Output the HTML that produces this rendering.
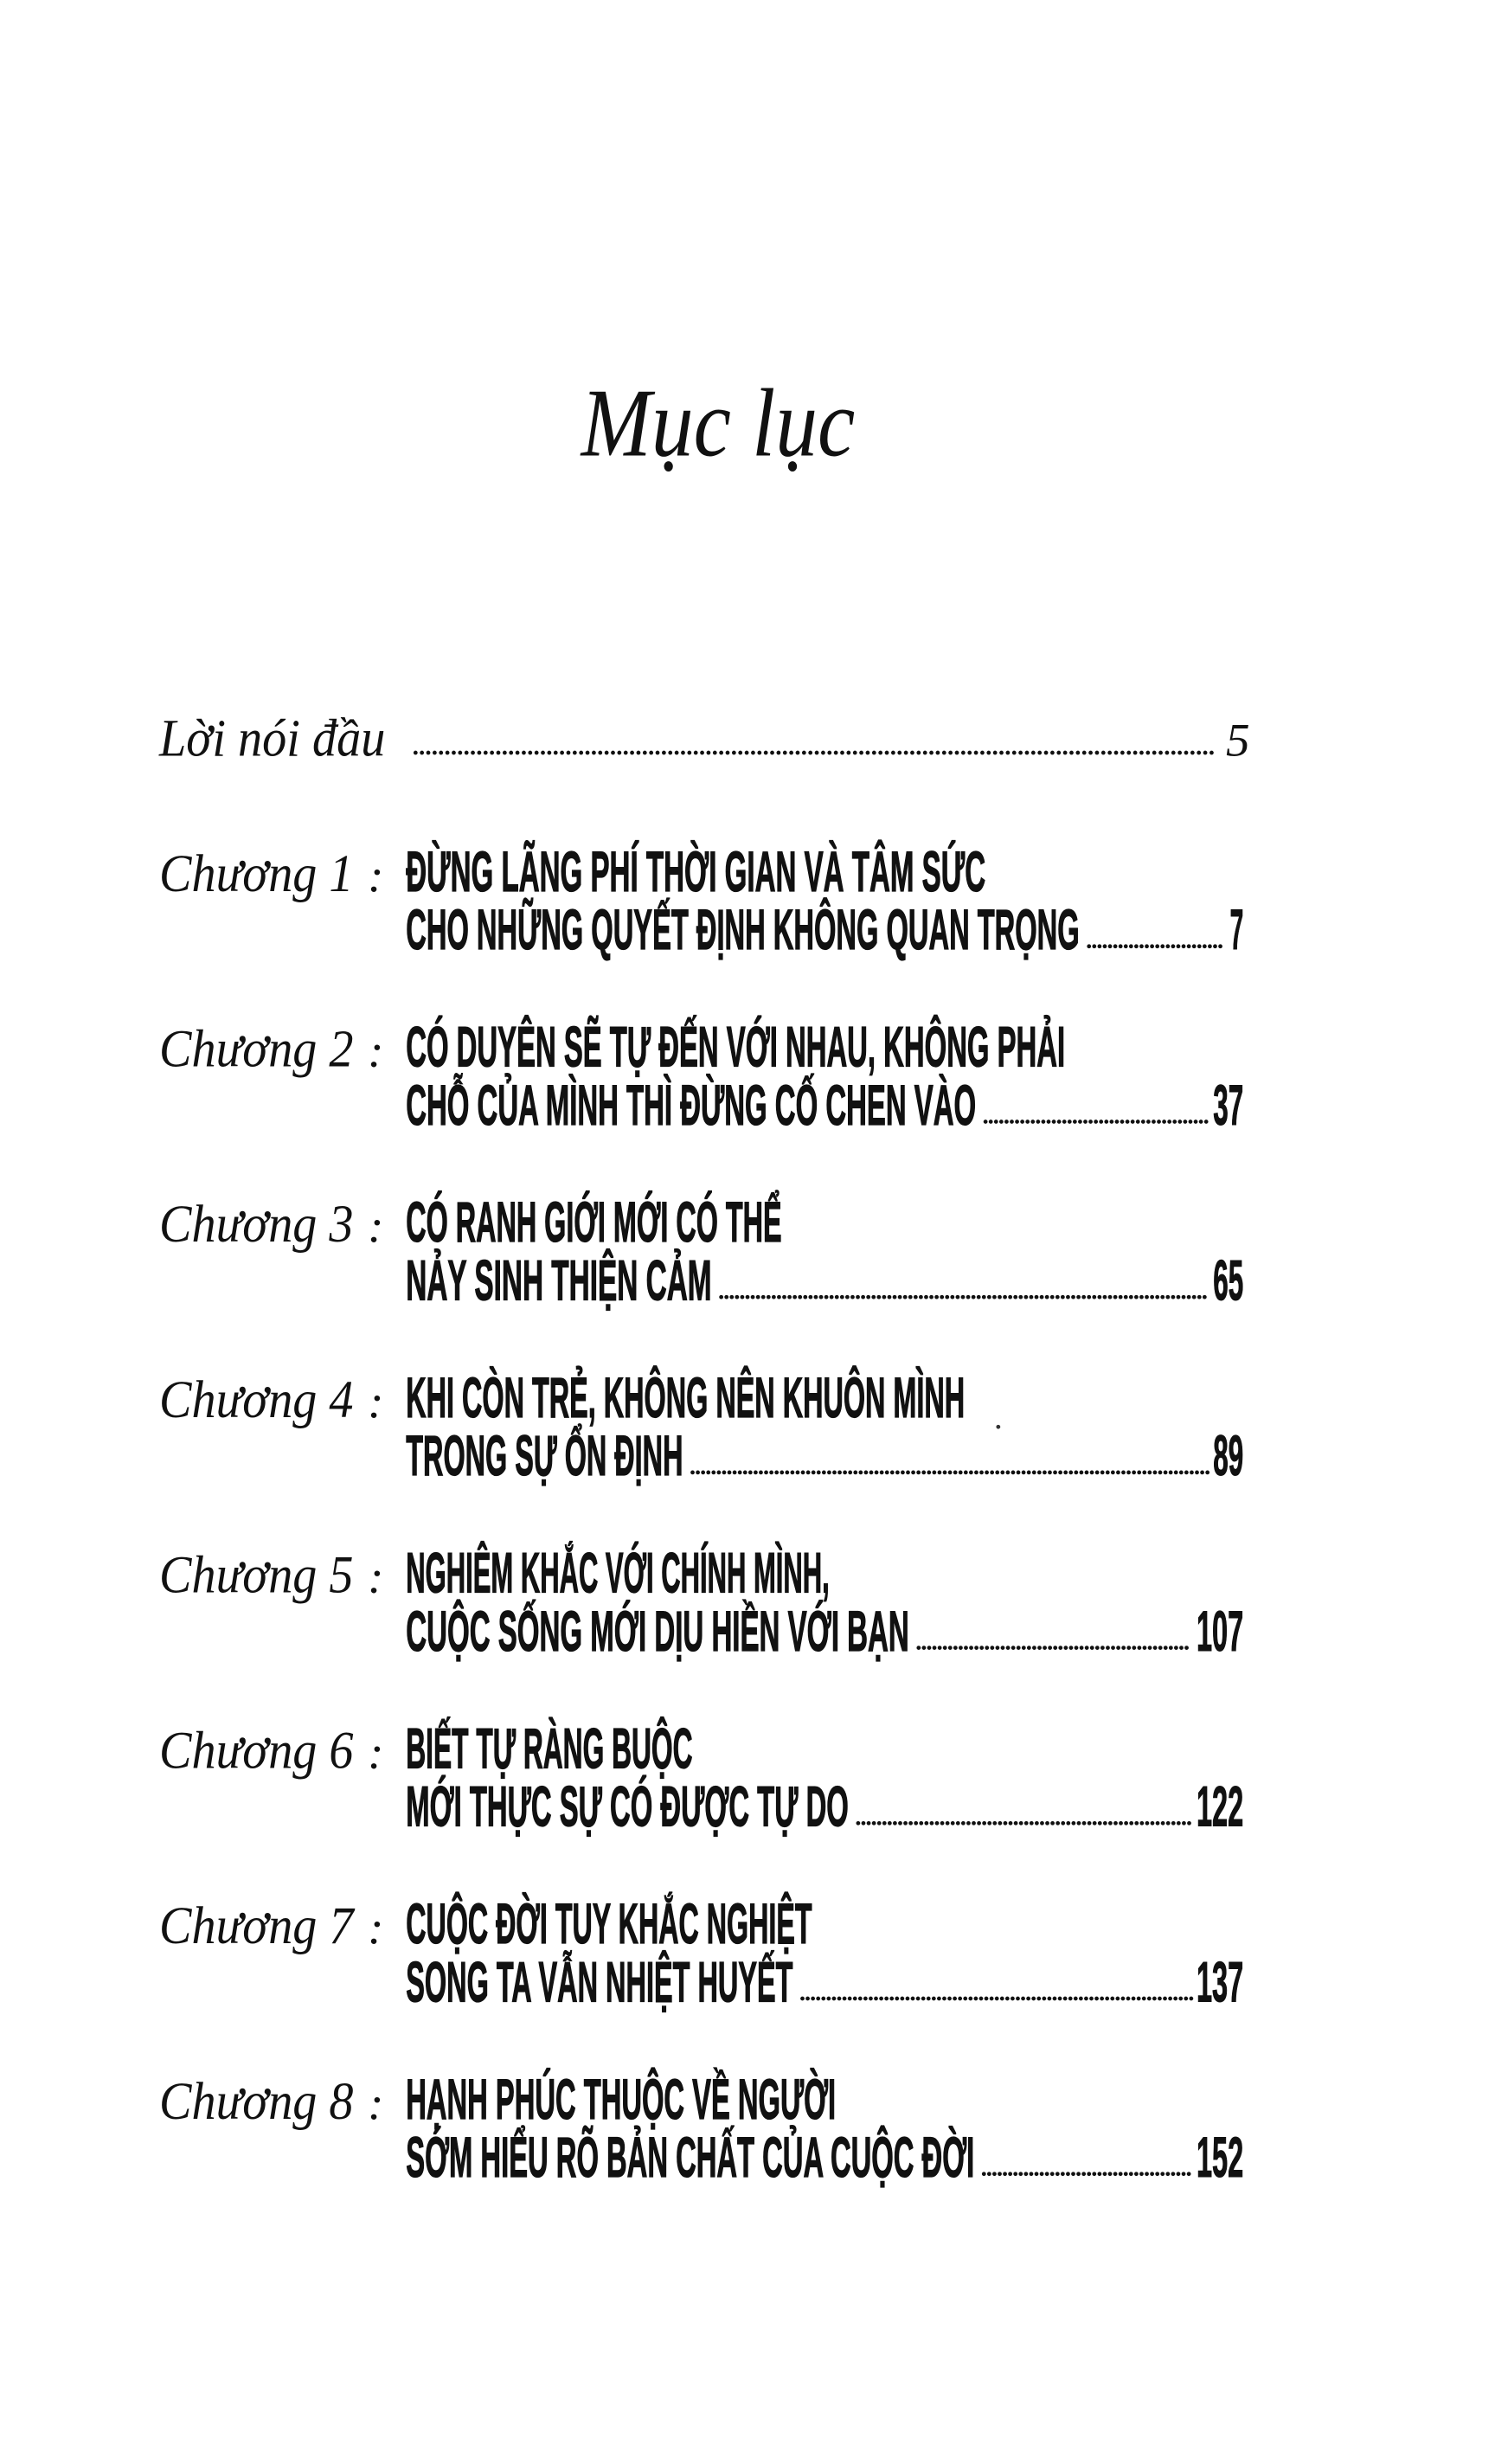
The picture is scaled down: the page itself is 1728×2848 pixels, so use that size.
<!DOCTYPE html>
<html><head><meta charset="utf-8"><style>
html,body{margin:0;padding:0;background:#fff;}
svg{display:block}
.c{font-family:"Liberation Sans",sans-serif;font-weight:bold;font-size:36px;fill:#111;stroke:#111;stroke-width:0.7}
.s{font-family:"Liberation Serif",serif;font-style:italic;fill:#111}
.n{font-family:"Liberation Sans",sans-serif;font-weight:bold;font-size:36px;fill:#111;stroke:#111;stroke-width:0.6}
</style></head><body>
<svg width="1728" height="2848" viewBox="0 0 939 1568" preserveAspectRatio="none" xmlns="http://www.w3.org/2000/svg">
<rect width="939" height="1568" fill="#fff"/>
<text class="s" x="365" y="290" font-size="62" textLength="172" lengthAdjust="spacingAndGlyphs">Mục lục</text>
<text class="s" x="100" y="481" font-size="34" textLength="142" lengthAdjust="spacingAndGlyphs">Lời nói đầu</text>
<line x1="261" y1="479" x2="765" y2="479" stroke="#111" stroke-width="2.6" stroke-dasharray="0 4" stroke-linecap="round"/>
<text class="s" x="770" y="481" font-size="30">5</text>
<g id="rows"></g>
<circle cx="627" cy="908" r="1.3" fill="#333"/>
</svg>
<script>
var rows=[
["1","ĐỪNG LÃNG PHÍ THỜI GIAN VÀ TÂM SỨC",624,"CHO NHỮNG QUYẾT ĐỊNH KHÔNG QUAN TRỌNG",683,"7"],
["2","CÓ DUYÊN SẼ TỰ ĐẾN VỚI NHAU, KHÔNG PHẢI",674,"CHỖ CỦA MÌNH THÌ ĐỪNG CỐ CHEN VÀO",618,"37"],
["3","CÓ RANH GIỚI MỚI CÓ THỂ",496,"NẢY SINH THIỆN CẢM",452,"65"],
["4","KHI CÒN TRẺ, KHÔNG NÊN KHUÔN MÌNH",611,"TRONG SỰ ỔN ĐỊNH",434,"89"],
["5","NGHIÊM KHẮC VỚI CHÍNH MÌNH,",526,"CUỘC SỐNG MỚI DỊU HIỀN VỚI BẠN",576,"107"],
["6","BIẾT TỰ RÀNG BUỘC",440,"MỚI THỰC SỰ CÓ ĐƯỢC TỰ DO",538,"122"],
["7","CUỘC ĐỜI TUY KHẮC NGHIỆT",515,"SONG TA VẪN NHIỆT HUYẾT",503,"137"],
["8","HẠNH PHÚC THUỘC VỀ NGƯỜI",530,"SỚM HIỂU RÕ BẢN CHẤT CỦA CUỘC ĐỜI",617,"152"]];
var g=document.getElementById('rows'),h='';
rows.forEach(function(r,i){
 var b1=567+111.6*i,b2=b1+37;
 var nw=r[5].length*10.5;
 h+='<text class="s" x="100" y="'+b1+'" font-size="34" textLength="122" lengthAdjust="spacingAndGlyphs">Chương '+r[0]+'</text>';
 h+='<text class="s" x="231" y="'+b1+'" font-size="30">:</text>';
 h+='<text class="c" x="255" y="'+b1+'" textLength="'+(r[2]-260)+'" lengthAdjust="spacingAndGlyphs">'+r[1]+'</text>';
 h+='<text class="c" x="255" y="'+b2+'" textLength="'+(r[4]-260)+'" lengthAdjust="spacingAndGlyphs">'+r[3]+'</text>';
 var nx=783-nw;
 h+='<line x1="'+(r[4]+1)+'" y1="'+(b2-1.8)+'" x2="'+(nx-3)+'" y2="'+(b2-1.8)+'" stroke="#111" stroke-width="2.6" stroke-dasharray="0 3.3" stroke-linecap="round"/>';
 h+='<text class="n" x="'+nx+'" y="'+b2+'" textLength="'+(nw-2)+'" lengthAdjust="spacingAndGlyphs">'+r[5]+'</text>';
});
g.innerHTML=h;
</script>
</body></html>
